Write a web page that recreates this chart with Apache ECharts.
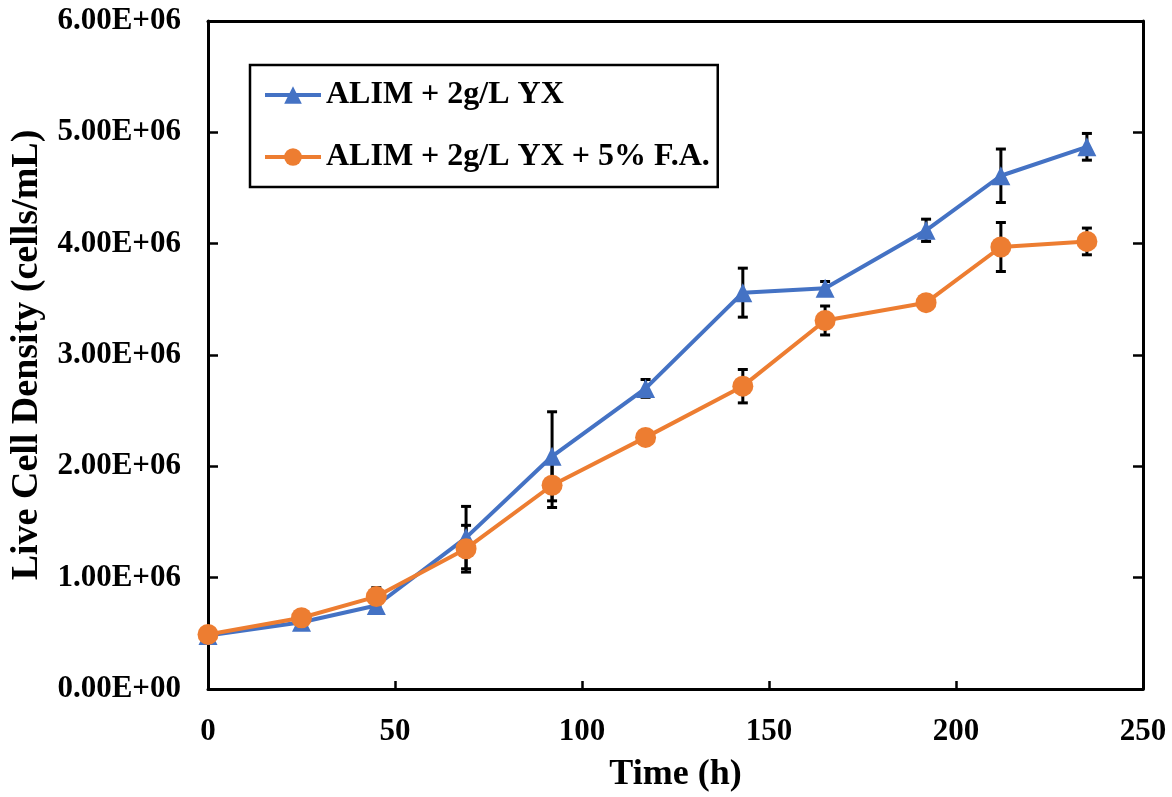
<!DOCTYPE html>
<html><head><meta charset="utf-8">
<script src="https://cdn.jsdelivr.net/npm/echarts@6/dist/echarts.min.js"></script>
<style>html,body{margin:0;padding:0;background:#fff}#c{width:1172px;height:797px}</style>
</head><body><div id="c"></div>
<script>
const times = [0, 25, 45, 69, 92, 117, 143, 165, 192, 212, 235];
const blueVals = [0.48e6, 0.60e6, 0.75e6, 1.36e6, 2.09e6, 2.70e6, 3.56e6, 3.60e6, 4.12e6, 4.61e6, 4.87e6];
const blueErr = [0.02e6, 0.05e6, 0.05e6, 0.28e6, 0.40e6, 0.08e6, 0.22e6, 0.06e6, 0.10e6, 0.24e6, 0.12e6];
const orangeVals = [0.49e6, 0.64e6, 0.83e6, 1.26e6, 1.83e6, 2.26e6, 2.72e6, 3.31e6, 3.47e6, 3.97e6, 4.02e6];
const orangeErr = [0.02e6, 0.03e6, 0.08e6, 0.21e6, 0.20e6, 0.04e6, 0.15e6, 0.13e6, 0.03e6, 0.22e6, 0.12e6];
const seriesNames = ['ALIM + 2g/L YX', 'ALIM + 2g/L YX + 5% F.A.'];
const xTitle = 'Time (h)';
const yTitle = 'Live Cell Density (cells/mL)';

const FONT = '"Liberation Serif", "Times New Roman", serif';
const chart = echarts.init(document.getElementById('c'));

function errData(vals, errs) {
  return times.map((t, i) => [t, vals[i] - errs[i], vals[i] + errs[i]]);
}
function errRender(params, api) {
  const x = api.value(0);
  const lo = api.coord([x, api.value(1)]);
  const hi = api.coord([x, api.value(2)]);
  const w = 5;
  const style = { stroke: '#000', lineWidth: 3 };
  return {
    type: 'group',
    children: [
      { type: 'line', shape: { x1: lo[0], y1: lo[1], x2: hi[0], y2: hi[1] }, style },
      { type: 'line', shape: { x1: lo[0] - w, y1: lo[1], x2: lo[0] + w, y2: lo[1] }, style },
      { type: 'line', shape: { x1: hi[0] - w, y1: hi[1], x2: hi[0] + w, y2: hi[1] }, style }
    ]
  };
}
const axisLine = { show: true, onZero: false, lineStyle: { color: '#000', width: 3 } };
const labelStyle = { color: '#000', fontFamily: FONT, fontWeight: 'bold', fontSize: 31 };
const tickStyle = { color: '#000', width: 2.5 };

chart.setOption({
  backgroundColor: '#fff',
  animation: false,
  grid: { left: 208, top: 21, right: 29, bottom: 108, containLabel: false, outerBoundsMode: 'none' },
  legend: {
    left: 250, top: 65,
    orient: 'vertical',
    data: seriesNames,
    itemWidth: 56, itemHeight: 22, itemGap: 30,
    padding: [14, 8, 14, 13],
    borderColor: '#000', borderWidth: 2.5,
    lineStyle: { width: 4 },
    textStyle: { color: '#000', fontFamily: FONT, fontWeight: 'bold', fontSize: 32, lineHeight: 32 }
  },
  xAxis: [{
    type: 'value', min: 0, max: 250, interval: 50,
    name: xTitle, nameLocation: 'middle', nameGap: 68,
    nameTextStyle: { color: '#000', fontFamily: FONT, fontWeight: 'bold', fontSize: 36 },
    axisLine, axisTick: { show: true, inside: true, length: 8, lineStyle: tickStyle },
    axisLabel: Object.assign({ margin: 27 }, labelStyle),
    splitLine: { show: false }
  }, {
    type: 'value', min: 0, max: 250, interval: 50, position: 'top',
    axisLine, axisTick: { show: false }, axisLabel: { show: false }, splitLine: { show: false }
  }],
  yAxis: [{
    type: 'value', min: 0, max: 6e6, interval: 1e6,
    name: yTitle, nameLocation: 'middle', nameGap: 161,
    nameTextStyle: { color: '#000', fontFamily: FONT, fontWeight: 'bold', fontSize: 38 },
    axisLine, axisTick: { show: true, inside: true, length: 10, lineStyle: tickStyle },
    axisLabel: Object.assign({ margin: 27, formatter: v => v === 0 ? '0.00E+00' : (v / 1e6).toFixed(2) + 'E+06' }, labelStyle),
    splitLine: { show: false }
  }, {
    type: 'value', min: 0, max: 6e6, interval: 1e6, position: 'right',
    axisLine, axisTick: { show: true, inside: true, length: 10, lineStyle: tickStyle },
    axisLabel: { show: false }, splitLine: { show: false }
  }],
  series: [
    { type: 'custom', name: 'errB', renderItem: errRender, data: errData(blueVals, blueErr), z: 1, silent: true },
    { type: 'custom', name: 'errO', renderItem: errRender, data: errData(orangeVals, orangeErr), z: 1, silent: true },
    {
      type: 'line', name: seriesNames[0], z: 3,
      data: times.map((t, i) => [t, blueVals[i]]),
      symbol: 'triangle', symbolSize: 19, showAllSymbol: true,
      lineStyle: { color: '#4472C4', width: 4 },
      itemStyle: { color: '#4472C4' }
    },
    {
      type: 'line', name: seriesNames[1], z: 4,
      data: times.map((t, i) => [t, orangeVals[i]]),
      symbol: 'circle', symbolSize: 21, showAllSymbol: true,
      lineStyle: { color: '#ED7D31', width: 4 },
      itemStyle: { color: '#ED7D31' }
    }
  ]
});
</script>
</body></html>
